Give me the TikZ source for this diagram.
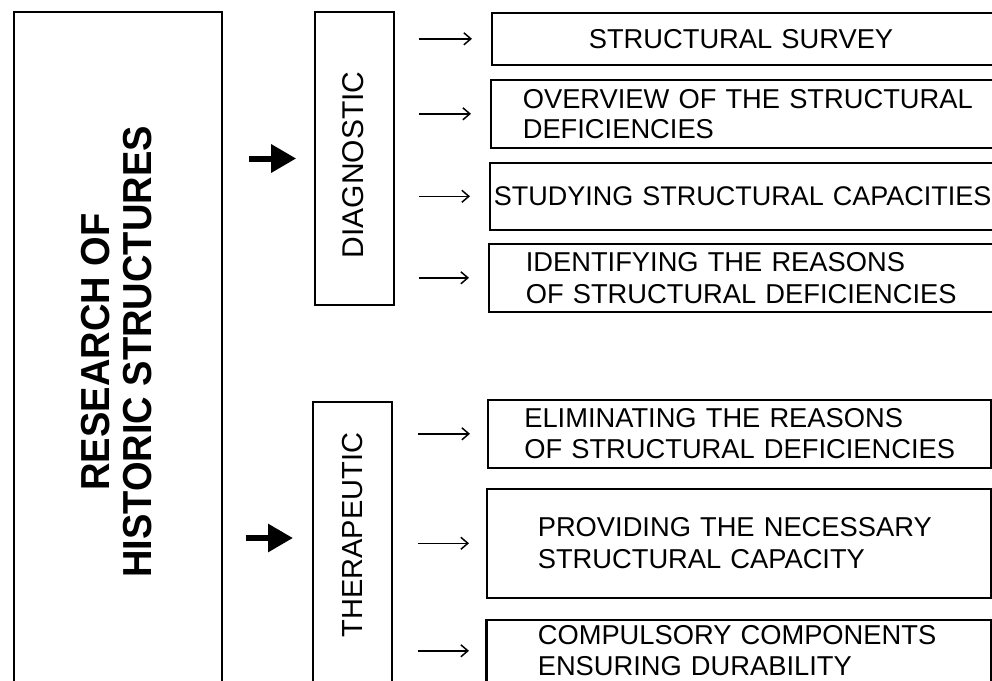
\documentclass[tikz,border=0pt]{standalone}
\usepackage{fontspec}
\setmainfont{Liberation Sans}
\newfontfamily\bigfont{Liberation Sans}[FakeStretch=0.94]
\usetikzlibrary{arrows.meta}
\begin{document}
\begin{tikzpicture}[x=1pt,y=-1pt,
  box/.style={draw, line width=1.6pt},
  rbox/.style={box, anchor=north west, align=left, inner ysep=0pt, font=\fontsize{27.3}{30}\selectfont},
  vtext/.style={rotate=90, inner sep=0pt},
  bigarrow/.style={line width=6pt, -{Triangle[length=25pt,width=27pt]}},
  sarrow/.style={line width=1.5pt, -{Straight Barb[length=7pt,width=12pt]}},
]
\useasboundingbox (0,0) rectangle (992,680);
% main box
\node[box, anchor=north west, minimum width=208pt, minimum height=700pt] (res) at (13,11) {};
\node[vtext, align=center, font=\bigfont\bfseries\fontsize{40.5}{42}\selectfont] (rest) at (117,352) {RESEARCH OF\\HISTORIC STRUCTURES};
% diagnostic / therapeutic
\node[box, minimum width=79pt, minimum height=293pt] (diag) at (354.5,158.5) {};
\node[vtext, font=\fontsize{30}{36}\selectfont] (diagt) at (353,165) {DIAGNOSTIC};
\node[box, anchor=north, minimum width=79pt, minimum height=300pt] (ther) at (352.5,401) {};
\node[vtext, font=\fontsize{29}{35}\selectfont] (thert) at (353,535) {THERAPEUTIC};
% right boxes
\node[rbox, minimum width=519pt, minimum height=52pt, inner xsep=97pt, text width=325pt] (b1) at (491,12) {\mbox{STRUCTURAL SURVEY}};
\node[rbox, minimum width=520pt, minimum height=68pt, inner xsep=32pt, text width=456pt] (b2) at (490,79) {\mbox{OVERVIEW OF THE STRUCTURAL}\\\mbox{DEFICIENCIES}};
\node[rbox, minimum width=521pt, minimum height=67pt, inner xsep=4pt, text width=513pt, font=\fontsize{27}{30}\selectfont] (b3) at (489,162) {\mbox{STUDYING STRUCTURAL CAPACITIES}};
\node[rbox, minimum width=522pt, minimum height=68pt, inner xsep=37pt, text width=448pt, font=\fontsize{27.3}{32}\selectfont] (b4) at (488,243) {\mbox{IDENTIFYING THE REASONS}\\\mbox{OF STRUCTURAL DEFICIENCIES}};
\node[rbox, minimum width=503pt, minimum height=68pt, inner xsep=36.5pt, text width=430pt, font=\fontsize{27.3}{31}\selectfont] (b5) at (487,399) {\mbox{ELIMINATING THE REASONS}\\\mbox{OF STRUCTURAL DEFICIENCIES}};
\node[rbox, minimum width=504pt, minimum height=109pt, inner xsep=51pt, text width=402pt, font=\fontsize{27.3}{32}\selectfont] (b6) at (486,488) {\mbox{PROVIDING THE NECESSARY}\\\mbox{STRUCTURAL CAPACITY}};
\node[rbox, minimum width=504pt, minimum height=62pt, inner xsep=51pt, text width=402pt, font=\fontsize{27.3}{31}\selectfont] (b7) at (486,619) {\mbox{COMPULSORY COMPONENTS}\\\mbox{ENSURING DURABILITY}};
% bottom edge of b7 lies below the picture
\draw[line width=1.6pt] (b7.north west) -- ++(0,70) (b7.north east) -- ++(0,70);
% connectors
\draw[bigarrow, shorten <=26pt, shorten >=18pt] (res.east |- diag.west) -- (diag.west);
\coordinate (tin) at (313,538);
\draw[bigarrow, shorten <=23pt, shorten >=20pt] (res.east |- tin) -- (tin);
\foreach \b in {b1,b2,b3,b4}
  \draw[sarrow, shorten <=24pt, shorten >=19pt] (diag.east |- \b.west) -- (\b.west);
\foreach \b in {b5,b6,b7}
  \draw[sarrow, shorten <=25pt, shorten >=17pt] (ther.east |- \b.west) -- (\b.west);
\end{tikzpicture}
\end{document}
